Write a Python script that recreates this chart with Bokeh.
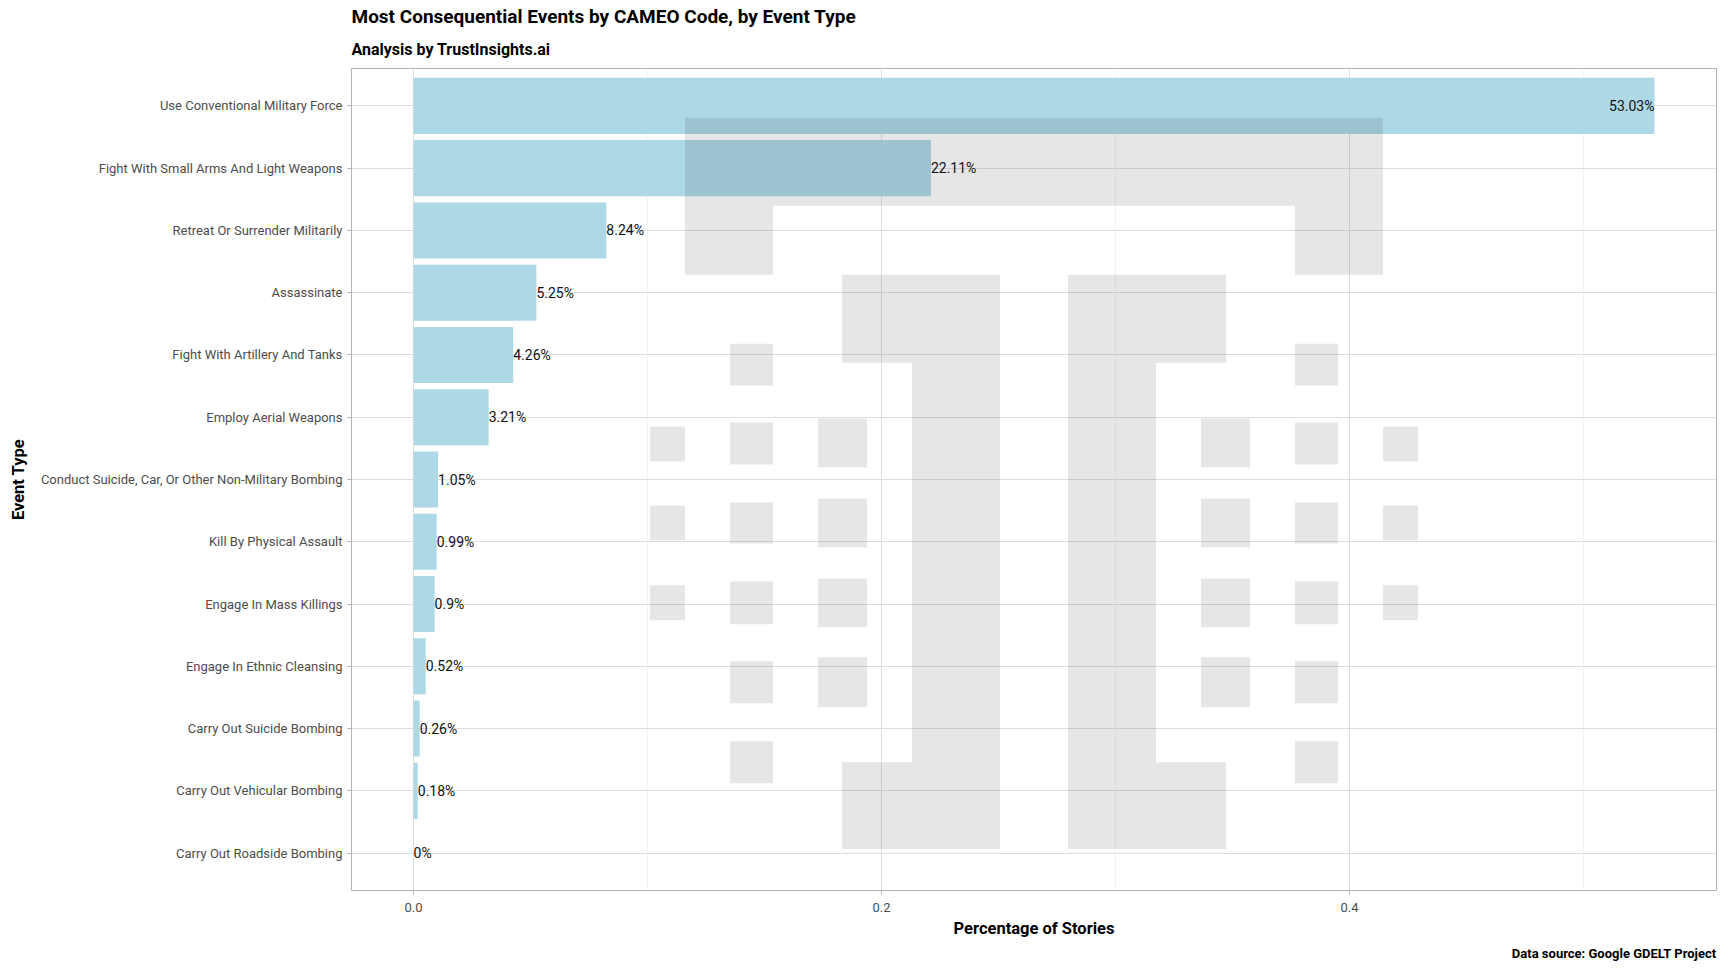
from bokeh.plotting import figure
from bokeh.models import (FactorRange, Range1d, ColumnDataSource, FixedTicker,
                          PrintfTickFormatter, Title)
from bokeh.embed import file_html
from bokeh.resources import INLINE

# ---------------- data ----------------
event_types = [
    "Use Conventional Military Force",
    "Fight With Small Arms And Light Weapons",
    "Retreat Or Surrender Militarily",
    "Assassinate",
    "Fight With Artillery And Tanks",
    "Employ Aerial Weapons",
    "Conduct Suicide, Car, Or Other Non-Military Bombing",
    "Kill By Physical Assault",
    "Engage In Mass Killings",
    "Engage In Ethnic Cleansing",
    "Carry Out Suicide Bombing",
    "Carry Out Vehicular Bombing",
    "Carry Out Roadside Bombing",
]
share = [0.5303, 0.2211, 0.0824, 0.0525, 0.0426, 0.0321, 0.0105,
         0.0099, 0.0090, 0.0052, 0.0026, 0.0018, 0.0]
x_ticks = [0.0, 0.2, 0.4]
x_minor_ticks = [0.1, 0.3, 0.5]

TITLE = "Most Consequential Events by CAMEO Code, by Event Type"
SUBTITLE = "Analysis by TrustInsights.ai"
CAPTION = "Data source: Google GDELT Project"
X_LABEL = "Percentage of Stories"
Y_LABEL = "Event Type"

# ---------------- style ----------------
FONT = "Roboto"
BAR_COLOR = "#ADD8E6"
W, H = 1720, 964
ML, MR, MT, MB = 351, 4, 68, 73
FRAME_W = W - ML - MR
FRAME_H = H - MT - MB
Y_PAD = 0.1   # extra category padding on each side (plus the half-band)

def pct_label(v):
    return f"{round(v * 100, 2):g}%"

pad = 0.05 * (max(share) - 0.0)
x_start, x_end = -pad, max(share) + pad

y_range = FactorRange(factors=list(reversed(event_types)),
                      range_padding=Y_PAD, range_padding_units="absolute")

p = figure(width=W, height=H, x_range=Range1d(x_start, x_end), y_range=y_range,
           output_backend="svg", toolbar_location=None, title=None,
           min_border_left=ML, min_border_right=MR,
           min_border_top=MT, min_border_bottom=MB)
p.background_fill_color = "white"
p.border_fill_color = "white"
p.outline_line_color = "#b3b3b3"
p.outline_line_width = 1

# grid
p.xgrid.grid_line_color = "#dedede"
p.xgrid.grid_line_width = 1
p.xgrid.minor_grid_line_color = "#ececec"
p.xgrid.minor_grid_line_width = 0.7
p.ygrid.grid_line_color = "#dedede"
p.ygrid.grid_line_width = 1

# bars
src = ColumnDataSource(dict(cat=event_types, val=share))
p.hbar(y="cat", left=0, right="val", height=0.9, source=src,
       fill_color=BAR_COLOR, line_color=None)

# watermark logo (decoration), geometry in pixels around the panel centre
n_cat = len(event_types)
y_span = n_cat + 2 * Y_PAD
px_x = FRAME_W / (x_end - x_start)
px_y = FRAME_H / y_span
cx = (x_start + x_end) / 2
cy = n_cat / 2 - 4 / px_y

logo_whole = [(-349, 349, -366, -278)]
logo_half = [(-349, -261, -278, -209),
             (-192, -34, -209, -121),
             (-122, -34, -121, 279),
             (-192, -34, 279, 366)]
sq_cols = [((-304, -261), [(-140, -98), (-61, -19), (19, 60), (98, 141), (178, 220), (258, 300)]),
           ((-216, -167), [(-65, -16), (15, 64), (95, 144), (174, 224)]),
           ((-384, -349), [(-57, -22), (22, 57), (102, 137)])]
rects = list(logo_whole)
for (a, b, c, d) in logo_half:
    rects.append((a, b, c, d))
    rects.append((-b, -a, c, d))
for (a, b), rows in sq_cols:
    for (c, d) in rows:
        rects.append((a, b, c, d))
        rects.append((-b, -a, c, d))
wm = dict(left=[cx + r[0] / px_x for r in rects],
          right=[cx + r[1] / px_x for r in rects],
          top=[cy - r[2] / px_y for r in rects],
          bottom=[cy - r[3] / px_y for r in rects])
p.quad(source=ColumnDataSource(wm), left="left", right="right", top="top",
       bottom="bottom", fill_color="#333333", fill_alpha=0.12, line_color=None)

# value labels
inside = [v > 0.5 for v in share]
src_out = ColumnDataSource(dict(
    cat=[c for c, f in zip(event_types, inside) if not f],
    val=[v for v, f in zip(share, inside) if not f],
    lab=[pct_label(v) for v, f in zip(share, inside) if not f]))
src_in = ColumnDataSource(dict(
    cat=[c for c, f in zip(event_types, inside) if f],
    val=[v for v, f in zip(share, inside) if f],
    lab=[pct_label(v) for v, f in zip(share, inside) if f]))
for s, al in ((src_out, "left"), (src_in, "right")):
    p.text(x="val", y="cat", text="lab", source=s, text_align=al,
           text_baseline="middle", text_font_size="14px", text_color="#111111",
           text_font={"value": FONT}, text_font_style="normal")

# axes
for ax in (p.xaxis[0], p.yaxis[0]):
    ax.axis_line_color = None
    ax.major_tick_line_color = "#b3b3b3"
    ax.major_tick_out = 4
    ax.major_tick_in = 0
    ax.minor_tick_line_color = None
    ax.major_label_text_font = FONT
    ax.major_label_text_font_size = "13px"
    ax.major_label_text_color = "#4d4d4d"
    ax.axis_label_text_font = FONT
    ax.axis_label_text_font_size = "16.5px"
    ax.axis_label_text_font_style = "bold"
    ax.axis_label_text_color = "black"

p.xaxis.ticker = FixedTicker(ticks=x_ticks, minor_ticks=x_minor_ticks)
p.xaxis.formatter = PrintfTickFormatter(format="%.1f")
p.xaxis.major_label_standoff = 8
p.xaxis.axis_label = X_LABEL
p.xaxis.axis_label_standoff = 4
p.yaxis.major_label_standoff = 5
p.yaxis.axis_label = Y_LABEL
p.yaxis.axis_label_standoff = 10

# titles
p.add_layout(Title(text=SUBTITLE, text_font=FONT, text_font_size="16px",
                   text_font_style="bold", text_color="black", align="left",
                   standoff=20), "above")
p.add_layout(Title(text=TITLE, text_font=FONT, text_font_size="19px",
                   text_font_style="bold", text_color="black", align="left",
                   standoff=0), "above")
p.add_layout(Title(text=CAPTION, text_font=FONT, text_font_size="13px",
                   text_font_style="bold", text_color="black", align="right",
                   standoff=7), "below")

open("out.html", "w").write(file_html(p, INLINE))
